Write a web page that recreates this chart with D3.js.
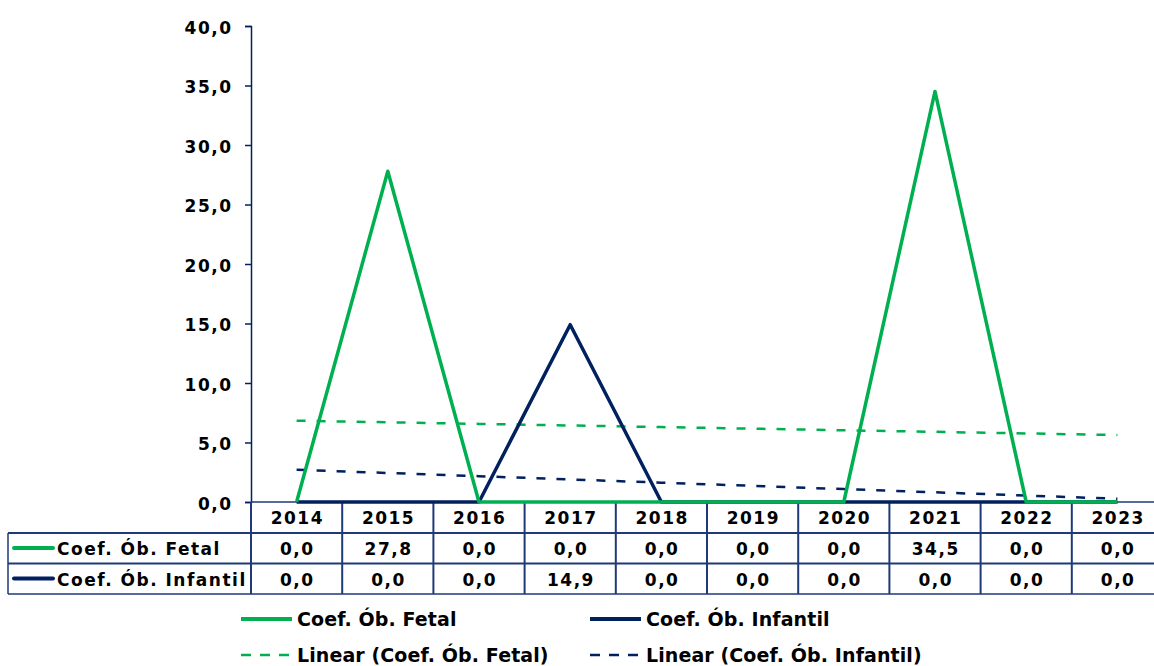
<!DOCTYPE html>
<html>
<head>
<meta charset="utf-8">
<script src="https://cdn.jsdelivr.net/npm/d3@7"></script>
<style>
  body { margin: 0; background: #fff; }
  svg text { font-family: "DejaVu Sans", Verdana, sans-serif; font-weight: bold; fill: #000; }
</style>
</head>
<body>
<svg id="chart" width="1154" height="666"></svg>
<script>
var years = ["2014", "2015", "2016", "2017", "2018", "2019", "2020", "2021", "2022", "2023"];
var fetal = [0.0, 27.8, 0.0, 0.0, 0.0, 0.0, 0.0, 34.5, 0.0, 0.0];
var infantil = [0.0, 0.0, 0.0, 14.9, 0.0, 0.0, 0.0, 0.0, 0.0, 0.0];
var yTicks = [0, 5, 10, 15, 20, 25, 30, 35, 40];
var seriesNames = ["Coef. Ób. Fetal", "Coef. Ób. Infantil"];

var green = "#00b050", navy = "#002060", gridBlue = "#1f3a78";
var fmt = function(v) { return d3.format(".1f")(v).replace(".", ","); };

var svg = d3.select("#chart");

var x = d3.scaleBand()
    .domain(years)
    .range([251, 1163])
    .padding(0);

var y = d3.scaleLinear()
    .domain([0, 40])
    .range([502, 26]);

var cx = function(d, i) { return x(years[i]) + x.bandwidth() / 2; };

// y axis
var yAxis = svg.append("g")
    .attr("transform", "translate(251,0)")
    .call(d3.axisLeft(y).tickValues(yTicks).tickSize(6).tickPadding(12.5).tickFormat(fmt));
yAxis.select(".domain").attr("stroke", navy).attr("stroke-width", 1.5);
yAxis.selectAll(".tick line").attr("stroke", navy).attr("stroke-width", 1.5);
yAxis.selectAll("text")
    .style("font-size", "17px")
    .style("letter-spacing", "1.5px")
    .attr("dy", "0.42em");

// data table
var rowTop = [502, 533, 563.5, 594];
var table = svg.append("g")
    .style("letter-spacing", "1.5px");
table.append("line")
    .attr("x1", 251).attr("x2", 1163)
    .attr("y1", 502).attr("y2", 502)
    .attr("stroke", gridBlue).attr("stroke-width", 1.5);
[1, 2, 3].forEach(function(r) {
  table.append("line")
      .attr("x1", 8).attr("x2", 1163)
      .attr("y1", rowTop[r]).attr("y2", rowTop[r])
      .attr("stroke", gridBlue).attr("stroke-width", r === 3 ? 1.5 : 2);
});
table.append("line")
    .attr("x1", 8).attr("x2", 8)
    .attr("y1", 533).attr("y2", 594)
    .attr("stroke", gridBlue).attr("stroke-width", 1.5);
table.selectAll("line.col")
  .data(years)
  .enter().append("line")
    .attr("class", "col")
    .attr("x1", function(d) { return x(d); })
    .attr("x2", function(d) { return x(d); })
    .attr("y1", 502).attr("y2", 594)
    .attr("stroke", gridBlue).attr("stroke-width", 2);

table.selectAll("text.year")
  .data(years)
  .enter().append("text")
    .attr("class", "year")
    .attr("x", function(d) { return x(d) + x.bandwidth() / 2 + 0.75; })
    .attr("y", 524)
    .attr("text-anchor", "middle")
    .style("font-size", "17px")
    .text(function(d) { return d; });

[fetal, infantil].forEach(function(vals, r) {
  table.selectAll("text.v" + r)
    .data(vals)
    .enter().append("text")
      .attr("class", "v" + r)
      .attr("x", function(d, i) { return cx(d, i) + 0.75; })
      .attr("y", rowTop[r + 1] + 22)
      .attr("text-anchor", "middle")
      .style("font-size", "17px")
      .text(fmt);
  table.append("line")
      .attr("x1", 14).attr("x2", 53)
      .attr("y1", rowTop[r + 1] + 15).attr("y2", rowTop[r + 1] + 15)
      .attr("stroke", r === 0 ? green : navy).attr("stroke-width", 4)
      .attr("stroke-linecap", "round");
  table.append("text")
      .attr("x", 57)
      .attr("y", rowTop[r + 1] + 22)
      .style("font-size", "17px")
      .text(seriesNames[r]);
});

// linear trend (least squares, as the spreadsheet does)
function trend(vals) {
  var n = vals.length, xm = (n + 1) / 2, ym = d3.mean(vals);
  var sxy = d3.sum(vals, function(v, i) { return (i + 1 - xm) * (v - ym); });
  var sxx = d3.sum(vals, function(v, i) { return (i + 1 - xm) * (i + 1 - xm); });
  var b = sxy / sxx;
  return vals.map(function(v, i) { return ym + b * (i + 1 - xm); });
}

var line = d3.line()
    .x(cx)
    .y(function(d) { return y(d); });

svg.append("path")
    .datum(trend(fetal))
    .attr("d", line)
    .attr("fill", "none")
    .attr("stroke", green).attr("stroke-width", 2.5)
    .attr("stroke-dasharray", "9,11");
svg.append("path")
    .datum(trend(infantil))
    .attr("d", line)
    .attr("fill", "none")
    .attr("stroke", navy).attr("stroke-width", 2.5)
    .attr("stroke-dasharray", "9,11");

svg.append("path")
    .datum(infantil)
    .attr("d", line)
    .attr("fill", "none")
    .attr("stroke", navy).attr("stroke-width", 3.5)
    .attr("stroke-linejoin", "round");
svg.append("path")
    .datum(fetal)
    .attr("d", line)
    .attr("fill", "none")
    .attr("stroke", green).attr("stroke-width", 3.5)
    .attr("stroke-linejoin", "round");

// legend
var legendItems = [
  {label: "Coef. Ób. Fetal", color: green, dash: null, x: 241, y: 619},
  {label: "Coef. Ób. Infantil", color: navy, dash: null, x: 590, y: 619},
  {label: "Linear (Coef. Ób. Fetal)", color: green, dash: "10,9", x: 241, y: 655},
  {label: "Linear (Coef. Ób. Infantil)", color: navy, dash: "10,9", x: 590, y: 655}
];
var legend = svg.append("g");
legendItems.forEach(function(d) {
  legend.append("line")
      .attr("x1", d.x).attr("x2", d.x + 51)
      .attr("y1", d.y).attr("y2", d.y)
      .attr("stroke", d.color)
      .attr("stroke-width", d.dash ? 2.5 : 4)
      .attr("stroke-dasharray", d.dash);
  legend.append("text")
      .attr("x", d.x + 56)
      .attr("y", d.y + 7)
      .style("font-size", "19px")
      .style("letter-spacing", "0.1px")
      .text(d.label);
});
</script>
</body>
</html>
